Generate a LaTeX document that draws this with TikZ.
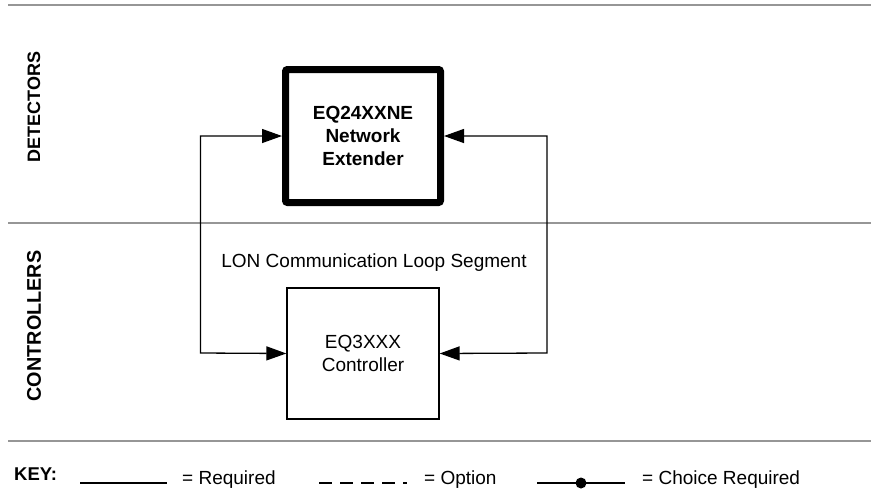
\documentclass[tikz,border=0pt]{standalone}
\usepackage{fontspec}
\setmainfont{Liberation Sans}
\usetikzlibrary{arrows.meta}
\definecolor{sep}{RGB}{150,150,150}
\tikzset{
  sepline/.style={draw=sep,line width=2pt},
  conn/.style={line width=1.3pt},
  arr2/.style={conn,{Triangle[length=20pt,width=14pt]}-{Triangle[length=20pt,width=14pt]}},
  thickbox/.style={draw,line width=7pt,rounded corners=2pt,minimum width=155pt,minimum height=133pt,align=center,font=\fontsize{19}{23}\selectfont\bfseries,inner sep=0pt},
  thinbox/.style={draw,line width=1.3pt,minimum width=152pt,minimum height=131pt,align=center,font=\fontsize{19}{23}\selectfont,inner sep=0pt},
  sidelabel/.style={rotate=90,inner sep=0pt},
  keytext/.style={anchor=base west,font=\fontsize{19}{22}\selectfont,inner sep=0pt},
}
\begin{document}
\begin{tikzpicture}[x=1pt,y=-1pt]
\useasboundingbox (0,0) rectangle (871,491);
% separator lines
\coordinate (s1a) at (8,5);   \coordinate (s1b) at (871,5);
\coordinate (s2a) at (8,222.5); \coordinate (s2b) at (871,222.5);
\coordinate (s3a) at (8,440.5); \coordinate (s3b) at (871,440.5);
\draw[sepline] (s1a) -- (s1b);
\draw[sepline] (s2a) -- (s2b);
\draw[sepline] (s3a) -- (s3b);
% side labels
\node[sidelabel,font=\fontsize{18}{20}\selectfont\bfseries] (det) at (34,107) {DETECTORS};
\node[sidelabel,font=\fontsize{19.8}{22}\selectfont\bfseries] (ctl) at (34,326) {CONTROLLERS};
% boxes
\node[thickbox] (ext) at (363,136) {EQ24XXNE\\Network\\Extender};
\node[thinbox] (ctrl) at (363,353.5) {EQ3XXX\\Controller};
\node[anchor=base,font=\fontsize{19}{22}\selectfont,inner sep=0pt] (lon) at (374,267.5) {LON Communication Loop Segment};
% loop connectors
\coordinate (lt) at (200.5,136); \coordinate (lb) at (200.5,353);
\coordinate (rt) at (547,136);   \coordinate (rb) at (547,353);
\draw[arr2] (ext.west) -- (lt) -- (lb) -- (ctrl.west);
\draw[arr2] (ext.east) -- (rt) -- (rb) -- (ctrl.east);
% key
\node[anchor=base west,font=\fontsize{18.5}{22}\selectfont\bfseries,inner sep=0pt] (key) at (14,480) {KEY:};
\coordinate (k1a) at (80,483); \coordinate (k1b) at (167,483);
\draw[conn] (k1a) -- (k1b);
\node[keytext] (kreq) at (182,484) {= Required};
\coordinate (k2a) at (319,483); \coordinate (k2b) at (407,483);
\draw[conn,dash pattern=on 13pt off 8pt] (k2a) -- (k2b);
\node[keytext] (kopt) at (424,484) {= Option};
\coordinate (k3a) at (537,483); \coordinate (k3b) at (625,483);
\draw[conn] (k3a) -- (k3b);
\fill (581,483) circle (5.5pt);
\node[keytext] (kcho) at (642,484) {= Choice Required};
\end{tikzpicture}
\end{document}
